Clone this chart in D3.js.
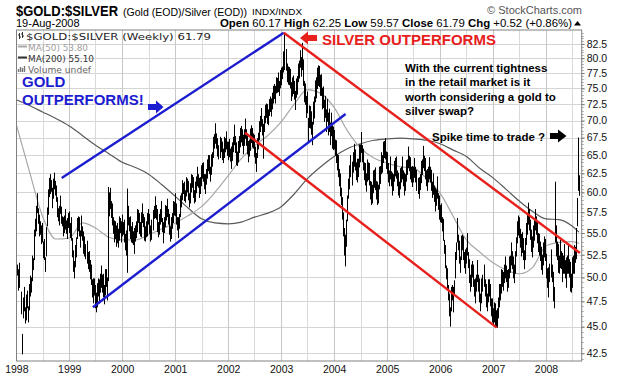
<html>
<head>
<title>GOLD:SILVER weekly</title>
<script src="https://d3js.org/d3.v7.min.js"></script>
<style>
body { margin: 0; background: #fff; }
text { font-family: Arial, "Liberation Sans", sans-serif; }
.legend text { font-family: "DejaVu Sans", Verdana, sans-serif; }
</style>
</head>
<body>
<svg id="chart" width="623" height="378"></svg>
<script>
// weekly bars, first one on fri 2 jan 1998
const firstWeek = new Date(1998, 0, 2);

const weekHigh = [
  // 1998
  52.3,51.4,50.9,51.6,48.5,44.3,47.9,49.0,46.9,48.2,48.6,47.0,49.3,50.2,50.0,52.4,52.1,55.4,56.7,58.3,
  59.9,58.0,57.2,56.4,55.9,56.2,54.0,54.3,52.2,55.7,58.1,60.4,61.9,62.4,61.6,60.6,61.8,62.6,61.5,60.9,
  59.4,58.0,58.3,59.6,58.2,57.0,56.9,57.1,57.9,56.5,56.8,57.4,
  // 1999
  57.6,56.2,56.9,54.4,53.0,51.8,53.6,54.5,56.8,57.0,56.9,55.3,57.1,55.8,55.2,54.6,53.7,54.1,52.8,52.9,
  51.9,51.4,49.8,49.9,49.9,49.2,48.4,49.4,49.9,49.8,50.4,51.3,50.3,50.4,49.2,50.9,50.9,50.0,60.7,60.0,
  60.6,58.9,58.6,56.9,56.5,56.4,55.9,56.2,55.5,57.0,56.8,56.4,
  // 2000
  57.2,56.3,56.6,54.9,55.3,60.5,58.3,56.9,57.0,55.8,56.3,55.2,55.6,55.9,56.4,57.9,57.8,57.4,56.3,57.5,
  58.6,57.3,56.9,55.8,56.4,57.4,57.9,57.3,55.9,56.6,57.8,58.3,59.5,58.4,57.9,56.3,57.3,57.9,58.9,56.8,
  56.3,56.9,58.4,58.3,59.2,57.9,57.3,55.8,56.9,57.4,58.9,58.8,59.9,
  // 2001
  58.6,56.9,56.9,57.3,59.6,59.9,61.6,61.2,61.4,60.3,62.0,61.8,61.5,59.9,61.2,62.4,62.3,62.0,60.3,61.4,
  62.1,63.4,62.4,61.9,62.0,63.6,63.9,64.0,62.4,62.4,63.1,64.4,65.0,65.0,63.4,65.1,65.4,67.6,68.0,69.6,
  68.1,67.4,66.4,67.6,67.4,66.9,65.9,67.6,67.4,68.4,66.9,66.9,
  // 2002
  67.3,65.9,66.2,66.8,67.6,69.4,67.7,66.8,65.5,67.0,67.7,68.9,69.2,68.7,67.9,68.7,70.3,68.7,67.9,67.0,
  67.2,68.8,69.3,68.9,68.1,67.9,66.2,65.3,67.4,68.2,69.9,70.7,71.9,70.2,69.5,70.7,72.4,72.6,72.5,71.7,
  73.3,73.7,73.4,74.3,75.4,75.7,75.4,76.8,76.7,77.6,76.2,78.0,
  // 2003
  78.4,78.6,81.2,84.5,81.6,79.1,78.6,78.5,78.2,76.0,76.8,77.1,76.2,74.6,76.6,77.0,79.1,79.6,81.4,80.2,
  82.7,79.8,76.2,75.8,73.8,74.5,70.4,72.3,72.2,71.4,69.8,72.9,73.7,76.3,76.8,78.4,78.8,78.7,77.2,77.3,
  75.1,75.3,73.2,73.8,71.7,73.3,71.2,71.8,69.7,71.2,69.3,69.1,
  // 2004
  68.6,67.2,67.1,65.1,65.0,63.1,62.5,60.6,59.4,57.5,55.6,54.8,56.6,59.6,61.8,63.6,65.0,64.1,65.4,66.6,
  65.8,64.0,64.5,64.5,66.5,66.5,68.3,66.4,65.9,64.0,63.9,62.5,64.4,64.0,63.9,61.5,61.4,61.0,62.9,63.0,
  63.3,61.5,61.4,61.0,63.4,63.5,65.4,65.0,66.9,67.0,67.4,65.5,65.4,
  // 2005
  63.9,62.9,64.8,62.8,62.6,62.4,64.2,64.6,64.8,62.9,62.6,61.4,63.2,63.4,64.8,62.9,62.6,62.4,64.3,64.4,
  66.2,64.9,64.7,63.4,63.5,63.4,64.6,63.4,63.0,61.9,62.0,62.4,64.2,64.4,66.3,64.9,64.6,62.9,63.1,63.4,
  64.7,63.4,63.0,61.4,62.5,60.9,60.6,60.4,62.1,59.9,59.6,58.4,
  // 2006
  58.6,56.9,56.7,54.2,53.6,51.3,51.0,49.2,48.3,46.9,49.0,49.2,49.0,49.7,52.8,53.9,56.8,54.8,54.1,52.3,
  54.7,54.8,54.6,52.8,53.1,53.3,55.0,52.8,52.0,50.3,51.4,51.8,51.4,49.8,49.9,50.3,51.9,50.3,49.9,48.3,
  49.9,50.3,51.4,49.8,49.3,48.3,49.8,49.8,49.3,47.8,47.8,46.8,
  // 2007
  47.4,47.3,46.6,46.8,47.9,49.3,49.3,50.9,50.8,50.6,51.4,52.3,51.3,50.8,50.9,52.3,52.4,53.9,52.9,52.3,
  51.4,52.9,54.5,56.4,57.1,56.9,55.5,54.9,55.1,54.4,53.0,54.4,56.2,57.4,58.7,57.9,56.6,55.4,54.6,55.9,
  56.6,57.9,57.0,56.4,55.0,54.9,54.0,53.4,52.5,53.9,54.6,54.3,
  // 2008
  52.6,51.0,51.1,51.5,53.1,51.4,50.6,49.0,61.4,55.9,54.0,53.7,52.4,54.2,52.9,52.7,52.4,53.7,51.9,52.2,
  52.4,53.6,52.0,51.7,50.4,52.2,52.4,53.6,53.4,55.6,59.3,67.5,62.25
];

const weekLow = [
  // 1998
  49.5,50.2,48.6,48.9,46.2,42.4,45.8,46.5,45.3,45.6,46.8,45.4,46.6,48.0,48.4,49.6,50.8,51.9,54.6,55.2,
  57.4,56.1,54.6,54.8,53.7,53.9,52.1,51.9,50.6,52.3,55.8,57.2,59.4,59.8,60.1,58.0,59.2,60.4,59.6,58.8,
  56.9,56.4,55.9,57.3,56.1,55.8,54.6,55.0,55.4,54.9,54.3,55.6,
  // 1999
  55.0,54.4,54.1,52.2,50.6,49.9,51.1,52.2,54.3,55.2,54.6,53.3,54.6,54.1,52.6,52.3,52.0,51.5,50.9,50.6,
  49.8,49.2,47.9,47.3,48.1,46.8,46.4,46.9,48.0,47.3,48.4,48.9,48.4,47.9,47.2,48.1,49.0,47.6,49.6,57.0,
  57.9,56.8,55.9,54.9,53.9,54.3,53.4,53.8,53.3,54.1,55.0,53.9,
  // 2000
  54.6,54.8,53.9,53.0,52.4,50.5,55.9,55.2,54.3,53.9,53.8,53.6,52.6,54.0,54.4,55.1,56.2,54.9,54.6,54.5,
  56.2,55.7,54.1,54.0,54.5,54.6,56.0,54.9,54.0,54.2,55.3,56.7,56.8,56.6,55.1,54.5,54.8,56.0,56.3,55.1,
  53.8,55.0,55.7,56.5,56.9,56.0,54.8,54.0,54.3,55.5,56.2,57.1,57.0,
  // 2001
  56.0,55.3,54.4,55.5,56.9,58.1,59.0,59.8,58.9,58.7,59.5,60.0,59.0,58.1,58.6,60.0,60.6,59.3,58.6,58.8,
  59.9,60.8,60.6,59.3,59.8,60.8,61.8,61.4,60.4,59.8,61.0,61.8,62.8,62.4,61.4,62.3,63.4,64.6,65.9,66.6,
  65.9,64.8,64.4,64.6,65.4,64.3,63.9,64.6,65.4,65.8,64.9,64.3,
  // 2002
  64.7,64.1,63.1,64.2,65.4,66.4,65.3,63.6,63.5,64.0,65.3,66.1,66.8,66.3,65.1,66.3,67.3,66.3,65.1,64.0,
  64.8,65.6,66.7,66.1,65.9,64.7,63.8,62.7,64.6,65.8,67.1,68.3,69.1,67.8,64.5,68.3,69.6,70.4,69.5,69.3,
  70.7,71.3,70.6,71.7,72.6,73.3,72.6,74.2,74.3,74.4,73.8,75.0,
  // 2003
  75.5,76.5,77.6,78.0,77.9,76.0,75.6,75.5,75.0,73.0,73.7,74.1,73.2,71.6,73.5,74.0,76.0,76.6,78.4,76.9,
  78.0,75.4,72.8,72.4,70.4,71.1,66.8,68.9,68.8,67.9,66.4,69.4,70.3,72.8,73.4,74.9,75.4,75.2,73.8,73.8,
  71.7,71.9,69.8,70.4,68.3,69.8,67.8,68.3,66.4,67.7,65.9,65.7,
  // 2004
  65.8,64.9,63.9,62.9,62.0,60.8,59.5,58.4,56.6,54.6,52.4,51.2,53.4,56.4,59.2,60.4,62.0,60.9,62.6,63.4,
  62.9,61.6,61.3,62.0,63.3,64.0,65.3,64.0,62.9,61.6,60.9,60.1,61.4,61.6,60.9,59.1,58.4,58.6,59.9,60.6,
  60.3,59.1,58.4,58.6,60.4,61.1,62.4,62.6,63.9,64.6,64.4,63.1,62.4,
  // 2005
  61.3,60.8,61.7,60.8,59.6,60.2,61.4,62.1,61.8,60.8,59.6,59.3,60.4,61.3,61.7,60.8,59.6,60.2,61.4,62.3,
  63.2,62.8,61.7,61.3,60.7,61.3,61.9,61.3,60.2,59.8,59.2,60.3,61.2,62.3,63.2,62.8,61.7,60.8,60.2,61.3,
  61.7,61.3,60.2,59.3,59.7,58.8,57.6,58.3,59.2,57.8,56.6,56.3,
  // 2006
  56.2,55.2,54.1,52.6,51.0,49.8,48.6,47.6,46.0,45.0,46.5,47.6,46.4,48.1,49.9,51.9,53.9,53.0,51.5,50.5,
  51.9,53.0,51.9,51.0,50.4,51.5,52.4,51.0,49.4,48.5,49.0,50.0,49.0,48.0,47.3,48.5,49.5,48.5,47.4,46.5,
  47.3,48.5,49.0,48.0,46.9,46.5,47.4,48.0,47.0,46.0,45.4,45.1,
  // 2007
  45.4,45.0,44.9,44.9,45.8,46.9,47.6,48.3,49.0,48.6,49.4,49.9,49.5,48.5,48.9,49.9,50.5,51.3,50.9,49.9,
  49.4,50.4,52.3,53.8,54.7,54.4,53.3,52.3,52.7,51.9,50.9,51.9,53.6,54.8,56.0,55.3,54.2,52.8,52.2,53.3,
  54.1,55.3,54.8,53.8,52.8,52.4,51.8,50.8,50.3,51.3,52.2,51.8,
  // 2008
  49.9,48.9,47.9,49.5,50.0,49.5,47.5,46.8,53.9,52.3,51.9,50.5,50.4,51.0,50.9,49.5,50.4,50.4,49.9,48.9,
  50.4,50.4,50.0,48.5,48.4,48.9,50.4,50.4,51.6,52.0,55.8,60.2,59.57
];

// moving averages, one value per quarter (jan/apr/jul/oct) + last week
const ma50 = [
  69.4,62.8,57.0,54.3, 54.4,56.2,55.6,54.5, 54.2,54.2,54.8,55.5, 56.2,57.1,58.2,60.0,
  62.2,64.5,66.3,67.8, 69.8,72.5,74.8,74.2, 72.0,68.5,66.0,64.6, 63.9,63.4,63.2,61.8,
  59.9,57.0,54.2,52.8, 51.6,50.8,50.4,51.1, 53.5,53.9,54.0,53.8
];
const ma200 = [
  73.2,72.3,71.3,70.3, 69.2,67.8,66.4,65.2, 64.0,63.3,62.4,61.0, 59.5,58.0,56.7,56.2,
  56.1,56.3,56.9,57.4, 58.2,59.8,61.8,63.4, 64.8,65.9,66.6,67.1, 67.3,67.4,67.3,67.1,
  66.6,65.7,64.8,63.2, 61.9,60.4,58.9,57.6, 56.7,56.6,55.8,55.1
];

const yTicks = [42.5,45,47.5,50,52.5,55,57.5,60,62.5,65,67.5,70,72.5,75,77.5,80,82.5];
const years = [1998,1999,2000,2001,2002,2003,2004,2005,2006,2007,2008];

// hand drawn channel lines: [date, ratio] pairs
const blueUpper = [["1998-11-10", 61.9], ["2003-01-19", 84.5]];
const blueLower = [["1999-06-13", 46.9], ["2004-03-20", 71.0]];
const redUpper = [["2003-01-19", 84.5], ["2008-08-22", 52.7]];
const redLower = [["2002-04-27", 68.2], ["2007-01-26", 44.9]];

const noteLines = ["With the  current tightness", "in the retail market is it",
                   "worth considering a gold to", "silver swap?"];

const svg = d3.select("#chart");
const pLeft = 16.5, pRight = 581.7, pTop = 30, pBottom = 361;

const x = d3.scaleTime().domain([new Date(1998, 0, 1), new Date(2008, 8, 3)]).range([16.3, pRight]);
const y = d3.scaleLog().domain([41.8, 85]).range([pBottom, pTop]);
const parse = d3.timeParse("%Y-%m-%d");

svg.append("defs").append("clipPath").attr("id", "plotclip")
   .append("rect").attr("x", pLeft).attr("y", pTop).attr("width", pRight - pLeft).attr("height", pBottom - pTop);

// grid
const grid = svg.append("g");
grid.selectAll("line.h").data(yTicks).join("line")
    .attr("x1", pLeft).attr("x2", pRight)
    .attr("y1", d => Math.round(y(d)) + 0.5).attr("y2", d => Math.round(y(d)) + 0.5)
    .attr("stroke", "#d4d4d4");
const halfYears = d3.timeMonth.every(6).range(new Date(1998, 6, 1), new Date(2008, 8, 1));
grid.selectAll("line.v").data(halfYears).join("line")
    .attr("x1", d => Math.round(x(d)) + 0.5).attr("x2", d => Math.round(x(d)) + 0.5)
    .attr("y1", pTop).attr("y2", pBottom)
    .attr("stroke", d => d.getMonth() == 0 ? "#c8c8c8" : "#dadada");

// axes
const minorTicks = d3.range(42, 85, 0.5);
svg.append("g").selectAll("line").data(minorTicks).join("line")
    .attr("x1", pRight).attr("x2", pRight + 2)
    .attr("y1", d => Math.round(y(d)) + 0.5).attr("y2", d => Math.round(y(d)) + 0.5)
    .attr("stroke", "#aaa");

const yAxis = svg.append("g").attr("transform", "translate(" + pRight + ",0)")
    .call(d3.axisRight(y).tickValues(yTicks).tickFormat(d3.format(".1f")).tickSize(3).tickPadding(2));
yAxis.select(".domain").remove();
yAxis.selectAll("line").attr("stroke", "#777");
yAxis.selectAll("text").attr("font-size", "10.5px").attr("fill", "#111")
     .style("font-family", "Arial, 'Liberation Sans', sans-serif");

const xAxis = svg.append("g").attr("transform", "translate(0," + pBottom + ")")
    .call(d3.axisBottom(x).tickValues(years.map(d => new Date(d, 0, 1)))
          .tickFormat(d3.timeFormat("%Y")).tickSize(0).tickPadding(5));
xAxis.select(".domain").remove();
xAxis.selectAll("text").attr("font-size", "10.5px").attr("fill", "#111")
     .style("font-family", "Arial, 'Liberation Sans', sans-serif");

// plot
const plot = svg.append("g").attr("clip-path", "url(#plotclip)");

const weeks = weekHigh.map((h, i) => ({ date: d3.timeDay.offset(firstWeek, 7 * i), hi: h, lo: weekLow[i] }));

const maDates = d3.timeMonth.every(3).range(new Date(1998, 0, 1), new Date(2008, 7, 1));
maDates.push(weeks[weeks.length - 1].date);

const maLine = d3.line().x((d, i) => x(maDates[i])).y(d => y(d)).curve(d3.curveMonotoneX);
plot.append("path").datum(ma200).attr("d", maLine)
    .attr("fill", "none").attr("stroke", "#5a5a5a").attr("stroke-width", 1.2);
plot.append("path").datum(ma50).attr("d", maLine)
    .attr("fill", "none").attr("stroke", "#a8a8a8").attr("stroke-width", 1.2);

// one crisp 1px stroke per week
plot.selectAll("line.bar").data(weeks).join("line")
    .attr("class", "bar")
    .attr("x1", d => Math.round(x(d.date)) + 0.5).attr("x2", d => Math.round(x(d.date)) + 0.5)
    .attr("y1", d => y(d.hi)).attr("y2", d => y(d.lo))
    .attr("stroke", "#000").attr("stroke-width", 1);

// channel lines
function channel(pts, color) {
    plot.append("line")
        .attr("x1", x(parse(pts[0][0]))).attr("y1", y(pts[0][1]))
        .attr("x2", x(parse(pts[1][0]))).attr("y2", y(pts[1][1]))
        .attr("stroke", color).attr("stroke-width", 2.4);
}
channel(blueUpper, "#1c1cd0");
channel(blueLower, "#1c1cd0");
channel(redUpper, "#e8201c");
channel(redLower, "#e8201c");

// frame
svg.append("rect").attr("x", pLeft).attr("y", pTop).attr("width", pRight - pLeft).attr("height", pBottom - pTop)
   .attr("fill", "none").attr("stroke", "#808080");

// legend
const legend = svg.append("g").attr("class", "legend");
legend.append("path").attr("d", "M19.5,33v6M18,35h1.5M19.5,37h1.5M22.5,32v6M21,34h1.5M22.5,36h1.5")
    .attr("stroke", "#333").attr("fill", "none");
legend.append("text").attr("x", 26).attr("y", 39.5).attr("font-size", "9.5px").attr("fill", "#222")
    .attr("textLength", 185).attr("lengthAdjust", "spacingAndGlyphs")
    .text("$GOLD:$SILVER (Weekly) 61.79");
legend.append("line").attr("x1", 18).attr("x2", 27).attr("y1", 46.5).attr("y2", 46.5).attr("stroke", "#a8a8a8").attr("stroke-width", 2);
legend.append("text").attr("x", 28).attr("y", 50.5).attr("font-size", "9px").attr("fill", "#a0a0a0")
    .attr("textLength", 60).attr("lengthAdjust", "spacingAndGlyphs").text("MA(50) 53.80");
legend.append("line").attr("x1", 18).attr("x2", 27).attr("y1", 57.5).attr("y2", 57.5).attr("stroke", "#333").attr("stroke-width", 2);
legend.append("text").attr("x", 28).attr("y", 61.5).attr("font-size", "9px").attr("fill", "#333")
    .attr("textLength", 66).attr("lengthAdjust", "spacingAndGlyphs").text("MA(200) 55.10");
legend.append("path").attr("d", "M18.5,72v-3M20.5,72v-5M22.5,72v-4M24.5,72v-6")
    .attr("stroke", "#777").attr("stroke-width", 1.4);
legend.append("text").attr("x", 28).attr("y", 72.5).attr("font-size", "9px").attr("fill", "#666")
    .attr("textLength", 63).attr("lengthAdjust", "spacingAndGlyphs").text("Volume undef");

// header
svg.append("text").attr("x", 16).attr("y", 15.5).attr("font-size", "15px").attr("font-weight", "bold")
   .attr("textLength", 102).attr("lengthAdjust", "spacingAndGlyphs").text("$GOLD:$SILVER");
svg.append("text").attr("x", 123).attr("y", 15.5).attr("font-size", "10.2px")
   .attr("textLength", 124).attr("lengthAdjust", "spacingAndGlyphs").text("(Gold (EOD)/Silver (EOD))");
svg.append("text").attr("x", 252).attr("y", 15).attr("font-size", "9px")
   .attr("textLength", 50).attr("lengthAdjust", "spacingAndGlyphs").text("INDX/INDX");
svg.append("text").attr("x", 582).attr("y", 14).attr("font-size", "11px").attr("fill", "#555")
   .attr("text-anchor", "end").text("\u00a9 StockCharts.com");
svg.append("text").attr("x", 16).attr("y", 27).attr("font-size", "11px").text("19-Aug-2008");

const quote = svg.append("text").attr("x", 220).attr("y", 27).attr("font-size", "11px")
   .attr("textLength", 352).attr("lengthAdjust", "spacingAndGlyphs");
[["Open", " 60.17  "], ["High", " 62.25  "], ["Low", " 59.57  "], ["Close", " 61.79  "], ["Chg", " +0.52 (+0.86%)"]]
  .forEach(p => {
      quote.append("tspan").attr("font-weight", "bold").text(p[0]);
      quote.append("tspan").text(p[1]);
  });
svg.append("path").attr("d", "M574,25.5L577.5,21L581,25.5Z").attr("fill", "#000");

// annotations
const blue = "#1c1cd0", red = "#e8201c";
svg.append("text").attr("x", 22).attr("y", 87).attr("font-size", "15px").attr("font-weight", "bold")
   .attr("fill", blue).text("GOLD");
svg.append("text").attr("x", 22).attr("y", 105).attr("font-size", "15px").attr("font-weight", "bold")
   .attr("fill", blue).text("OUTPERFORMS!");
svg.append("polygon").attr("points", "148,104 156,104 156,100.5 163.5,107 156,113.5 156,110 148,110").attr("fill", blue);

svg.append("text").attr("x", 322).attr("y", 45).attr("font-size", "15px").attr("font-weight", "bold")
   .attr("fill", red).text("SILVER OUTPERFORMS");
svg.append("polygon").attr("points", "317,35 308,35 308,31.5 300,38 308,44.5 308,41 317,41").attr("fill", red);

svg.selectAll("text.note").data(noteLines).join("text")
   .attr("class", "note")
   .attr("x", 405).attr("y", (d, i) => 72 + i * 14.4)
   .attr("font-size", "11.5px").attr("font-weight", "bold").text(d => d);
svg.append("text").attr("x", 432).attr("y", 141).attr("font-size", "11.5px").attr("font-weight", "bold")
   .text("Spike time to trade ?");
svg.append("polygon").attr("points", "550,133 558,133 558,129.5 566.5,136 558,142.5 558,139 550,139").attr("fill", "#000");
</script>
</body>
</html>
